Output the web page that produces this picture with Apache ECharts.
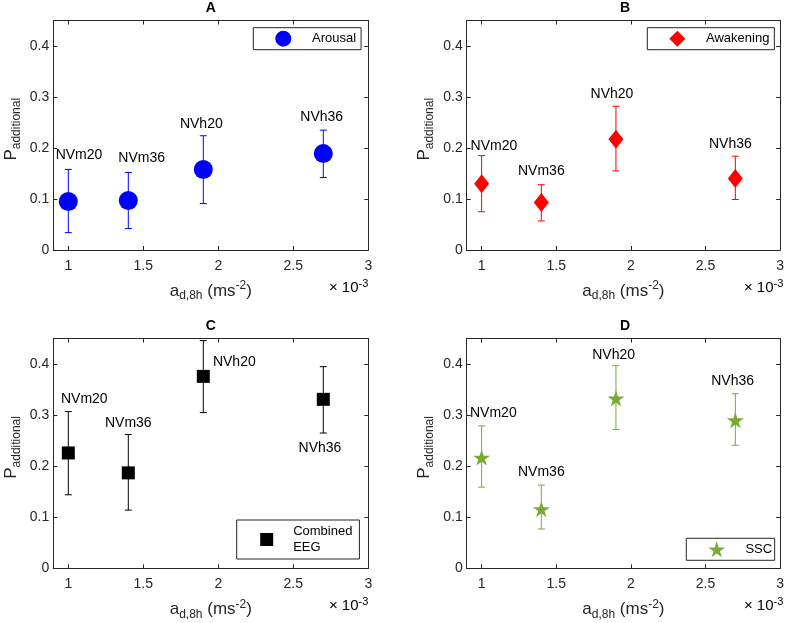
<!DOCTYPE html>
<html>
<head>
<meta charset="utf-8">
<script src="https://cdn.jsdelivr.net/npm/echarts@6/dist/echarts.min.js"></script>
<style>
html,body{margin:0;padding:0;background:#fff;}
#chart{width:787px;height:623px;}
</style>
</head>
<body>
<div id="chart"></div>
<script>
// ---- data ----
const categories = ['NVm20', 'NVm36', 'NVh20', 'NVh36'];
const accel = [1.0, 1.4, 1.9, 2.7]; // a_d,8h in units of 1e-3 m/s^2
const xTicks = [1, 1.5, 2, 2.5, 3];
const yTicks = [0, 0.1, 0.2, 0.3, 0.4];

const arousalMean = [0.095, 0.097, 0.158, 0.189];
const arousalLow  = [0.034, 0.042, 0.091, 0.142];
const arousalHigh = [0.158, 0.152, 0.224, 0.235];

const awakeningMean = [0.130, 0.093, 0.217, 0.140];
const awakeningLow  = [0.075, 0.057, 0.155, 0.099];
const awakeningHigh = [0.185, 0.128, 0.282, 0.184];

const combinedMean = [0.226, 0.187, 0.376, 0.331];
const combinedLow  = [0.144, 0.114, 0.305, 0.265];
const combinedHigh = [0.307, 0.262, 0.446, 0.395];

const sscMean = [0.217, 0.116, 0.333, 0.290];
const sscLow  = [0.159, 0.077, 0.272, 0.241];
const sscHigh = [0.279, 0.163, 0.397, 0.342];

const panelTitles = ['A', 'B', 'C', 'D'];
const seriesNames = ['Arousal', 'Awakening', 'Combined EEG', 'SSC'];

// ---- styles / layout ----
const FONT = '"Liberation Sans", Arial, Helvetica, sans-serif';
const AX = '#262626';
const starPath = 'path://M50 0 L61.23 34.55 L97.55 34.55 L68.16 55.9 L79.39 90.45 L50 69.1 L20.61 90.45 L31.84 55.9 L2.45 34.55 L38.77 34.55 Z';
const diamondPath = 'path://M50 0 L100 50 L50 100 L0 50 Z';
const squarePath = 'path://M0 0 L100 0 L100 100 L0 100 Z';
const circlePath = 'path://M50 0 A50 50 0 1 1 49.99 0 Z';
const styles = [
  {color: '#0000ff', symbol: 'circle', size: 19, icon: circlePath, iconH: 16},
  {color: '#ff0000', symbol: 'diamond', size: [15, 19], icon: diamondPath, iconH: 16},
  {color: '#000000', symbol: 'rect', size: 13, icon: squarePath, iconH: 13},
  {color: '#77ac30', symbol: starPath, size: 17, icon: starPath, iconH: 16}
];
const grids = [
  {left: 53.3, top: 20.5, width: 315, height: 229.5},
  {left: 466.7, top: 20.5, width: 316.6, height: 229.5},
  {left: 53.3, top: 338.6, width: 315, height: 229.7},
  {left: 466.7, top: 338.6, width: 316.6, height: 229.7}
];
const labelOffsets = [
  [[10.7, -46], [13.4, -42], [-2, -45.7], [-1.6, -36]],
  [[12.3, -38], [0, -31], [-4, -44.7], [-5, -34.3]],
  [[16, -53.3], [0, -49.3], [31, -14.3], [-3.3, 49]],
  [[11.7, -44.3], [0, -36.7], [-2.3, -42.7], [-2.7, -39]]
];
const legendBoxes = [
  {left: 253.3, top: 27.7, padV: 3, padR: 5},
  {left: 647.3, top: 27.7, padV: 3, padR: 5},
  {left: 236.7, top: 520, padV: 3.5, padR: 7},
  {left: 686.3, top: 538.3, padV: 3, padR: 2.5}
];

const means = [arousalMean, awakeningMean, combinedMean, sscMean];
const lows = [arousalLow, awakeningLow, combinedLow, sscLow];
const highs = [arousalHigh, awakeningHigh, combinedHigh, sscHigh];

const xMin = 0.9, xMax = 3, yMin = 0, yMax = 0.45;

const richMain = {
  m: {fontSize: 17, fontFamily: FONT, color: AX, lineHeight: 22},
  sub: {fontSize: 12, fontFamily: FONT, color: AX, lineHeight: 12, verticalAlign: 'bottom'},
  sup: {fontSize: 12, fontFamily: FONT, color: AX, lineHeight: 12, verticalAlign: 'top'}
};

const xAxes = [], yAxes = [], series = [], titles = [], legends = [], graphics = [];

for (let i = 0; i < 4; i++) {
  xAxes.push({
    gridIndex: i, type: 'value', min: xMin, max: xMax, position: 'bottom',
    name: '{m|a}{sub|d,8h}{m| (ms}{sup|-2}{m|)}',
    nameLocation: 'middle', nameGap: 30,
    nameTextStyle: {rich: richMain, fontSize: 17, fontFamily: FONT, color: AX},
    axisLine: {show: true, onZero: false, lineStyle: {color: AX, width: 1}},
    axisTick: {show: true, inside: true, length: 4, customValues: xTicks, lineStyle: {color: AX}},
    axisLabel: {show: true, customValues: xTicks, margin: 9, fontSize: 14, fontFamily: FONT, color: AX},
    splitLine: {show: false}
  });
  yAxes.push({
    gridIndex: i, type: 'value', min: yMin, max: yMax, position: 'left',
    name: '{m|P}{sub|additional}',
    nameLocation: 'middle', nameGap: 31, nameRotate: 90,
    nameTextStyle: {rich: richMain, fontSize: 17, fontFamily: FONT, color: AX, padding: [0, 0, 0, 12]},
    axisLine: {show: true, onZero: false, lineStyle: {color: AX, width: 1}},
    axisTick: {show: true, inside: true, length: 4, customValues: yTicks, lineStyle: {color: AX}},
    axisLabel: {show: true, customValues: yTicks, margin: 4, fontSize: 14, fontFamily: FONT, color: AX},
    splitLine: {show: false}
  });
}
for (let i = 0; i < 4; i++) {
  xAxes.push({
    gridIndex: i, type: 'value', min: xMin, max: xMax, position: 'top',
    axisLine: {show: true, onZero: false, lineStyle: {color: AX, width: 1}},
    axisTick: {show: true, inside: true, length: 4, customValues: xTicks, lineStyle: {color: AX}},
    axisLabel: {show: false}, splitLine: {show: false}
  });
  yAxes.push({
    gridIndex: i, type: 'value', min: yMin, max: yMax, position: 'right',
    axisLine: {show: true, onZero: false, lineStyle: {color: AX, width: 1}},
    axisTick: {show: true, inside: true, length: 4, customValues: yTicks, lineStyle: {color: AX}},
    axisLabel: {show: false}, splitLine: {show: false}
  });
}

for (let i = 0; i < 4; i++) {
  const st = styles[i];
  const g = grids[i];
  const errData = accel.map((x, k) => [x, lows[i][k], highs[i][k]]);
  series.push({
    type: 'custom', xAxisIndex: i, yAxisIndex: i, z: 2, silent: true,
    data: errData, encode: {x: 0, y: [1, 2]},
    renderItem: (params, api) => {
      const x = api.value(0), lo = api.value(1), hi = api.value(2);
      const a = api.coord([x, lo]), b = api.coord([x, hi]);
      const hw = 3.5;
      const style = {stroke: st.color, lineWidth: 1, fill: null};
      return {type: 'group', children: [
        {type: 'line', shape: {x1: a[0], y1: a[1], x2: b[0], y2: b[1]}, style},
        {type: 'line', shape: {x1: a[0] - hw, y1: a[1], x2: a[0] + hw, y2: a[1]}, style},
        {type: 'line', shape: {x1: b[0] - hw, y1: b[1], x2: b[0] + hw, y2: b[1]}, style}
      ]};
    }
  });
  series.push({
    type: 'scatter', name: seriesNames[i], xAxisIndex: i, yAxisIndex: i, z: 3,
    symbol: st.symbol, symbolSize: st.size, symbolKeepAspect: true,
    itemStyle: {color: st.color, opacity: 1},
    data: accel.map((x, k) => ({
      name: categories[k], value: [x, means[i][k]],
      label: {offset: labelOffsets[i][k]}
    })),
    label: {show: true, position: 'inside', formatter: '{b}', color: '#000', fontSize: 14, fontFamily: FONT},
    emphasis: {disabled: true}
  });
  titles.push({
    text: panelTitles[i], left: g.left + g.width / 2, top: g.top - 19, textAlign: 'center', padding: 0,
    textStyle: {fontSize: 14, fontWeight: 'bold', fontFamily: FONT, color: '#000'}
  });
  const lb = legendBoxes[i];
  const H = st.iconH;
  const padL = 30 - H / 2;
  const W = 23.4 + 1.5 * H;
  legends.push({
    data: [{name: seriesNames[i], icon: st.icon}], left: lb.left, top: lb.top, orient: 'vertical',
    padding: [lb.padV, lb.padR, lb.padV, padL], itemWidth: W, itemHeight: H, itemGap: 0,
    symbolKeepAspect: true,
    borderColor: AX, borderWidth: 1, backgroundColor: '#fff',
    selectedMode: false,
    formatter: n => n === 'Combined EEG' ? 'Combined\nEEG' : n,
    textStyle: {fontSize: 13, fontFamily: FONT, color: '#000', lineHeight: 16}
  });
  graphics.push({
    type: 'text', x: g.left + g.width, y: g.top + g.height + 38,
    style: {
      text: '{m|\u00d7 10}{sup|-3}', align: 'right', verticalAlign: 'middle',
      rich: {
        m: {fontSize: 15, fontFamily: FONT, color: AX, lineHeight: 20},
        sup: {fontSize: 11, fontFamily: FONT, color: AX, lineHeight: 11, verticalAlign: 'top'}
      }
    }
  });
}

const chart = echarts.init(document.getElementById('chart'), null, {renderer: 'canvas'});
chart.setOption({
  backgroundColor: '#fff',
  animation: false,
  title: titles,
  grid: grids.map(g => ({left: g.left, top: g.top, width: g.width, height: g.height, containLabel: false})),
  xAxis: xAxes,
  yAxis: yAxes,
  legend: legends,
  series: series,
  graphic: graphics
});
</script>
</body>
</html>
